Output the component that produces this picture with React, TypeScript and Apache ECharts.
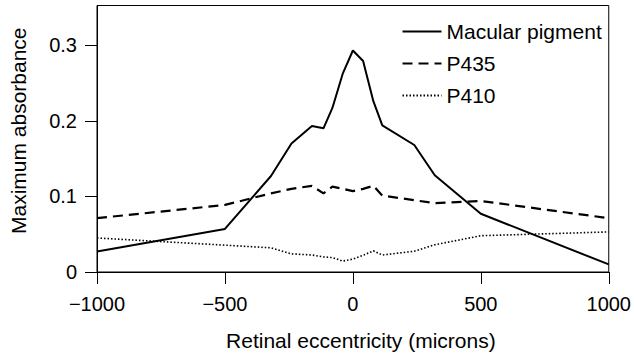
import React, { useEffect, useRef } from "react";
import * as echarts from "echarts";

const FONT = '"Liberation Sans", Arial, Helvetica, sans-serif';

// Retinal eccentricity (microns), shared sampling for all three curves
const eccentricity = [-1000, -500, -320, -240, -160, -115, -80, -40, 0, 40, 80, 115, 240, 320, 500, 1000];
const macularPigment = [0.027, 0.057, 0.127, 0.17, 0.193, 0.19, 0.217, 0.262, 0.293, 0.279, 0.226, 0.194, 0.168, 0.128, 0.077, 0.01];
const p435 = [0.0712, 0.0887, 0.104, 0.11, 0.114, 0.104, 0.113, 0.11, 0.107, 0.11, 0.114, 0.101, 0.095, 0.091, 0.094, 0.0712];
const p410 = [0.045, 0.0355, 0.032, 0.024, 0.0225, 0.02, 0.019, 0.0145, 0.017, 0.022, 0.028, 0.0225, 0.0275, 0.036, 0.048, 0.053];

const xTicks = [-1000, -500, 0, 500, 1000];
const yTicks = [0, 0.1, 0.2, 0.3];

const seriesNames = ["Macular pigment", "P435", "P410"];

const zip = (xs: number[], ys: number[]) => xs.map((x, i) => [x, ys[i]]);

export default function App() {
  const ref = useRef<HTMLDivElement>(null);
  useEffect(() => {
    if (!ref.current) return;
    const chart = echarts.init(ref.current, undefined, { renderer: "svg" });
    const axisText = { color: "#000", fontFamily: FONT, fontSize: 20 };
    chart.setOption({
      animation: false,
      backgroundColor: "#fff",
      textStyle: { fontFamily: FONT, color: "#000" },
      grid: {
        left: 95.5,
        top: 5.5,
        width: 516,
        height: 269,
        show: true,
        borderColor: "#000",
        borderWidth: 1,
        backgroundColor: "transparent",
      },
      legend: {
        orient: "vertical",
        left: 401.5,
        top: 21,
        padding: 0,
        itemWidth: 39,
        itemHeight: 14,
        itemGap: 11,
        selectedMode: false,
        data: seriesNames,
        itemStyle: { color: "transparent", borderColor: "transparent", borderWidth: 0 },
        textStyle: { color: "#000", fontFamily: FONT, fontSize: 21 },
      },
      xAxis: {
        type: "value",
        min: -1000,
        max: 1000,
        interval: 500,
        name: "Retinal eccentricity (microns)",
        nameLocation: "middle",
        nameGap: 58,
        nameTextStyle: { color: "#000", fontFamily: FONT, fontSize: 21, padding: [0, 0, 0, 16] },
        axisLine: { show: true, onZero: false, lineStyle: { color: "#000", width: 1 } },
        axisTick: { show: true, length: 12, inside: false, lineStyle: { color: "#000" }, customValues: xTicks },
        axisLabel: {
          ...axisText,
          margin: 22,
          customValues: xTicks,
          formatter: (v: number) => (v < 0 ? "\u2212" + Math.abs(v) : String(v)),
        },
        splitLine: { show: false },
      },
      yAxis: {
        type: "value",
        min: 0,
        max: 0.3525,
        name: "Maximum absorbance",
        nameLocation: "middle",
        nameGap: 68,
        nameTextStyle: { color: "#000", fontFamily: FONT, fontSize: 21, padding: [0, 0, 0, 16] },
        axisLine: { show: true, onZero: false, lineStyle: { color: "#000", width: 1 } },
        axisTick: { show: true, length: 12, inside: false, lineStyle: { color: "#000" }, customValues: yTicks },
        axisLabel: {
          ...axisText,
          margin: 20,
          customValues: yTicks,
          formatter: (v: number) => (v === 0 ? "0" : v.toFixed(1)),
        },
        splitLine: { show: false },
      },
      series: [
        {
          name: seriesNames[0],
          type: "line",
          data: zip(eccentricity, macularPigment),
          symbol: "none",
          lineStyle: { color: "#000", width: 2, type: "solid" },
          itemStyle: { color: "#000" },
        },
        {
          name: seriesNames[1],
          type: "line",
          data: zip(eccentricity, p435),
          symbol: "none",
          lineStyle: { color: "#000", width: 2.2, type: [10, 6] },
          itemStyle: { color: "#000" },
        },
        {
          name: seriesNames[2],
          type: "line",
          data: zip(eccentricity, p410),
          symbol: "none",
          lineStyle: { color: "#000", width: 1.6, type: [1.5, 2] },
          itemStyle: { color: "#000" },
        },
      ],
    });
    return () => chart.dispose();
  }, []);
  return (
    <div
      ref={ref}
      style={{ position: "fixed", left: 0, top: 0, width: 634, height: 356, background: "#fff" }}
    />
  );
}
